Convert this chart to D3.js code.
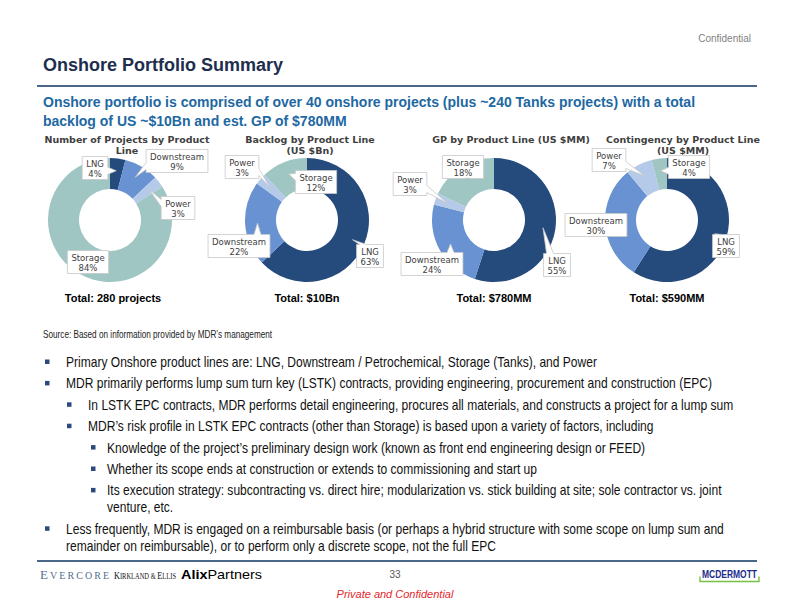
<!DOCTYPE html>
<html>
<head>
<meta charset="utf-8">
<script src="https://cdn.jsdelivr.net/npm/d3@7"></script>
<style>
  html, body { margin: 0; padding: 0; background: #fff; }
  svg { display: block; }
</style>
</head>
<body>
<svg id="page" width="792" height="612"></svg>
<script>
// ---- data ----
const productLines = ['LNG', 'Downstream', 'Power', 'Storage'];
const projectsPct = [4, 9, 3, 84];
const backlogPct = [63, 22, 3, 12];
const gpPct = [55, 24, 3, 18];
const contingencyPct = [59, 30, 7, 4];
const chartTitles = [
    ['Number of Projects by Product', 'Line'],
    ['Backlog by Product Line', '(US $Bn)'],
    ['GP by Product Line (US $MM)'],
    ['Contingency by Product Line', '(US $MM)']
];
const chartTotals = ['Total: 280 projects', 'Total: $10Bn', 'Total: $780MM', 'Total: $590MM'];
const sliceColors = ['#254a7c', '#6892d1', '#b5c9e9', '#a0c6c4'];

const bullets = [
    { level: 1, lines: ['Primary Onshore product lines are: LNG, Downstream / Petrochemical, Storage (Tanks), and Power'] },
    { level: 1, lines: ['MDR primarily performs lump sum turn key (LSTK) contracts, providing engineering, procurement and construction (EPC)'] },
    { level: 2, lines: ['In LSTK EPC contracts, MDR performs detail engineering, procures all materials, and constructs a project for a lump sum'] },
    { level: 2, lines: ['MDR\u2019s risk profile in LSTK EPC contracts (other than Storage) is based upon a variety of factors, including'] },
    { level: 3, lines: ['Knowledge of the project\u2019s preliminary design work (known as front end engineering design or FEED)'] },
    { level: 3, lines: ['Whether its scope ends at construction or extends to commissioning and start up'] },
    { level: 3, lines: ['Its execution strategy: subcontracting vs. direct hire; modularization vs. stick building at site; sole contractor vs. joint', 'venture, etc.'] },
    { level: 1, lines: ['Less frequently, MDR is engaged on a reimbursable basis (or perhaps a hybrid structure with some scope on lump sum and', 'remainder on reimbursable), or to perform only a discrete scope, not the full EPC'] }
];

// ---- layout ----
const donutCenters = [[110, 220], [307, 220], [494, 220], [667, 220]];
const titleCenters = [127, 310, 511, 683];
const outerR = 62, innerR = 31;
// label box centres relative to donut centre, and whether a pointer is drawn
const labelLayout = [
    [[-15, -51], [67, -58], [68, -11], [-22, 43, false]],
    [[63, 37], [-68, 27], [-65, -52], [9, -37]],
    [[63, 46], [-62, 45], [-84, -35], [-31, -52]],
    [[59, 27], [-71, 6, false], [-58, -59], [22, -52]]
];
const narrow = 0.86; // horizontal squeeze standing in for Arial Narrow

const svg = d3.select('#page');
svg.append('rect').attr('width', 792).attr('height', 612).attr('fill', '#fff');

// header
svg.append('text')
    .attr('x', 751).attr('y', 42)
    .attr('text-anchor', 'end')
    .style('font', '10px "Liberation Sans", Arial, sans-serif')
    .attr('fill', '#7f7f7f')
    .text('Confidential');

svg.append('text')
    .attr('x', 43).attr('y', 71)
    .style('font', 'bold 18px "Liberation Sans", Arial, sans-serif')
    .attr('fill', '#1d2e4e')
    .text('Onshore Portfolio Summary');

svg.append('line')
    .attr('x1', 37).attr('x2', 757).attr('y1', 86).attr('y2', 86)
    .attr('stroke', '#4b6787').attr('stroke-width', 2);

const subtitle = ['Onshore portfolio is comprised of over 40 onshore projects (plus ~240 Tanks projects) with a total',
    'backlog of US ~$10Bn and est. GP of $780MM'];
svg.append('g').selectAll('text').data(subtitle).join('text')
    .attr('x', 43).attr('y', (d, i) => 107 + i * 19)
    .style('font', 'bold 14px "Liberation Sans", Arial, sans-serif')
    .attr('fill', '#1e68a2')
    .text(d => d);

// ---- donuts ----
const pie = d3.pie().sort(null).value(d => d);
const arc = d3.arc().innerRadius(innerR).outerRadius(outerR);
const tipArc = d3.arc().innerRadius(outerR * 0.8).outerRadius(outerR * 0.8);

function calloutPath(x0, y0, x1, y1, tx, ty) {
    const w = 7;
    const clamp = (v, a, b) => Math.max(a, Math.min(b, v));
    const dxOut = tx < x0 ? x0 - tx : (tx > x1 ? tx - x1 : 0);
    const dyOut = ty < y0 ? y0 - ty : (ty > y1 ? ty - y1 : 0);
    let side;
    if (dyOut >= dxOut) side = ty < y0 ? 'top' : 'bottom';
    else side = tx > x1 ? 'right' : 'left';
    const bx = clamp(tx, x0 + w / 2 + 3, x1 - w / 2 - 3);
    const by = clamp(ty, y0 + w / 2 + 3, y1 - w / 2 - 3);
    const p = d3.path();
    p.moveTo(x0, y0);
    if (side === 'top') { p.lineTo(bx - w / 2, y0); p.lineTo(tx, ty); p.lineTo(bx + w / 2, y0); }
    p.lineTo(x1, y0);
    if (side === 'right') { p.lineTo(x1, by - w / 2); p.lineTo(tx, ty); p.lineTo(x1, by + w / 2); }
    p.lineTo(x1, y1);
    if (side === 'bottom') { p.lineTo(bx + w / 2, y1); p.lineTo(tx, ty); p.lineTo(bx - w / 2, y1); }
    p.lineTo(x0, y1);
    if (side === 'left') { p.lineTo(x0, by + w / 2); p.lineTo(tx, ty); p.lineTo(x0, by - w / 2); }
    p.closePath();
    return p.toString();
}

const series = [projectsPct, backlogPct, gpPct, contingencyPct];

series.forEach((values, ci) => {
    const [cx, cy] = donutCenters[ci];
    const g = svg.append('g').attr('transform', `translate(${cx},${cy})`);
    const arcs = pie(values);

    g.selectAll('path.slice').data(arcs).join('path')
        .attr('class', 'slice')
        .attr('d', arc)
        .attr('fill', (d, i) => sliceColors[i]);

    // chart title
    svg.append('g').selectAll('text').data(chartTitles[ci]).join('text')
        .attr('x', titleCenters[ci]).attr('y', (d, i) => 143 + i * 11)
        .attr('text-anchor', 'middle')
        .style('font', 'bold 9.5px "DejaVu Sans", Verdana, sans-serif')
        .attr('fill', '#404040')
        .text(d => d);

    // total
    svg.append('text')
        .attr('x', cx + (ci === 0 ? 3 : 0)).attr('y', 302)
        .attr('text-anchor', 'middle')
        .style('font', 'bold 11px "Liberation Sans", Arial, sans-serif')
        .attr('fill', '#000')
        .text(chartTotals[ci]);

    // callout labels
    arcs.forEach((a, i) => {
        const lay = labelLayout[ci][i];
        const lg = g.append('g');
        const box = lg.append('path');
        const lines = [productLines[i], values[i] + '%'];
        const txt = lg.selectAll('text').data(lines).join('text')
            .attr('x', lay[0]).attr('y', (d, k) => lay[1] - 2 + k * 10)
            .attr('text-anchor', 'middle')
            .style('font', '8.5px "DejaVu Sans", Verdana, sans-serif')
            .attr('fill', '#404040')
            .text(d => d);
        const tw = d3.max(txt.nodes(), n => n.getComputedTextLength());
        const bw = tw + 8, bh = 23;
        const x0 = lay[0] - bw / 2, y0 = lay[1] - bh / 2 - 1;
        const [tx, ty] = tipArc.centroid(a);
        if (lay[2] === false) {
            box.attr('d', `M${x0},${y0}h${bw}v${bh}h${-bw}Z`);
        } else {
            box.attr('d', calloutPath(x0, y0, x0 + bw, y0 + bh, tx, ty));
        }
        box.attr('fill', '#fff').attr('stroke', '#c8c8c8').attr('stroke-width', 0.8);
    });
});

// ---- source + bullets ----
svg.append('text')
    .attr('transform', 'translate(43,338) scale(0.82,1)')
    .style('font', '10px "Liberation Sans", Arial, sans-serif')
    .attr('fill', '#222')
    .text('Source: Based on information provided by MDR\u2019s management');

const levelX = { 1: [45, 66], 2: [67, 88], 3: [91, 107] };
const bulletG = svg.append('g')
    .style('font', '14px "Liberation Sans", Arial, sans-serif')
    .attr('fill', '#111');
let y = 367;
bullets.forEach(b => {
    const [bx, tx] = levelX[b.level];
    bulletG.append('rect')
        .attr('x', bx).attr('y', y - 7.5).attr('width', 4.5).attr('height', 4.5)
        .attr('fill', '#2d4a7f');
    b.lines.forEach((line, k) => {
        bulletG.append('text')
            .attr('transform', `translate(${tx},${y}) scale(${narrow},1)`)
            .text(line);
        y += k < b.lines.length - 1 ? 17 : 0;
    });
    y += 21.4;
});

// ---- footer ----
svg.append('line')
    .attr('x1', 37).attr('x2', 757).attr('y1', 561).attr('y2', 561)
    .attr('stroke', '#4b6787').attr('stroke-width', 2);

const ever = svg.append('text').attr('x', 40).attr('y', 579)
    .style('font-family', '"Liberation Serif", "DejaVu Serif", serif')
    .attr('fill', '#55708f')
    .attr('textLength', 69).attr('lengthAdjust', 'spacing');
ever.append('tspan').style('font-size', '13px').text('E');
ever.append('tspan').style('font-size', '10px').text('VERCORE');

const kirk = svg.append('text').attr('x', 114).attr('y', 579)
    .style('font-family', '"Liberation Serif", "DejaVu Serif", serif')
    .attr('fill', '#111')
    .attr('textLength', 62).attr('lengthAdjust', 'spacingAndGlyphs');
kirk.append('tspan').style('font-size', '9.5px').text('K');
kirk.append('tspan').style('font-size', '7.5px').text('IRKLAND & ');
kirk.append('tspan').style('font-size', '9.5px').text('E');
kirk.append('tspan').style('font-size', '7.5px').text('LLIS');

const alix = svg.append('text').attr('x', 181).attr('y', 579)
    .style('font', '13px "Liberation Sans", Arial, sans-serif')
    .attr('fill', '#000')
    .attr('textLength', 81).attr('lengthAdjust', 'spacingAndGlyphs');
alix.append('tspan').style('font-weight', 'bold').text('Alix');
alix.append('tspan').text('Partners');

svg.append('text')
    .attr('x', 395).attr('y', 578)
    .attr('text-anchor', 'middle')
    .style('font', '10px "Liberation Sans", Arial, sans-serif')
    .attr('fill', '#595959')
    .text('33');

svg.append('text')
    .attr('x', 702).attr('y', 578)
    .style('font', 'bold 11px "Liberation Sans", Arial, sans-serif')
    .attr('fill', '#1b2b8c')
    .attr('textLength', 55).attr('lengthAdjust', 'spacingAndGlyphs')
    .text('MCDERMOTT');
svg.append('path')
    .attr('d', 'M700,576.5V581.5H759V576.5')
    .attr('fill', 'none').attr('stroke', '#78c043').attr('stroke-width', 1.4);

svg.append('text')
    .attr('x', 395).attr('y', 598)
    .attr('text-anchor', 'middle')
    .style('font', 'italic 11px "Liberation Sans", Arial, sans-serif')
    .attr('fill', '#e3262d')
    .text('Private and Confidential');
</script>
</body>
</html>
